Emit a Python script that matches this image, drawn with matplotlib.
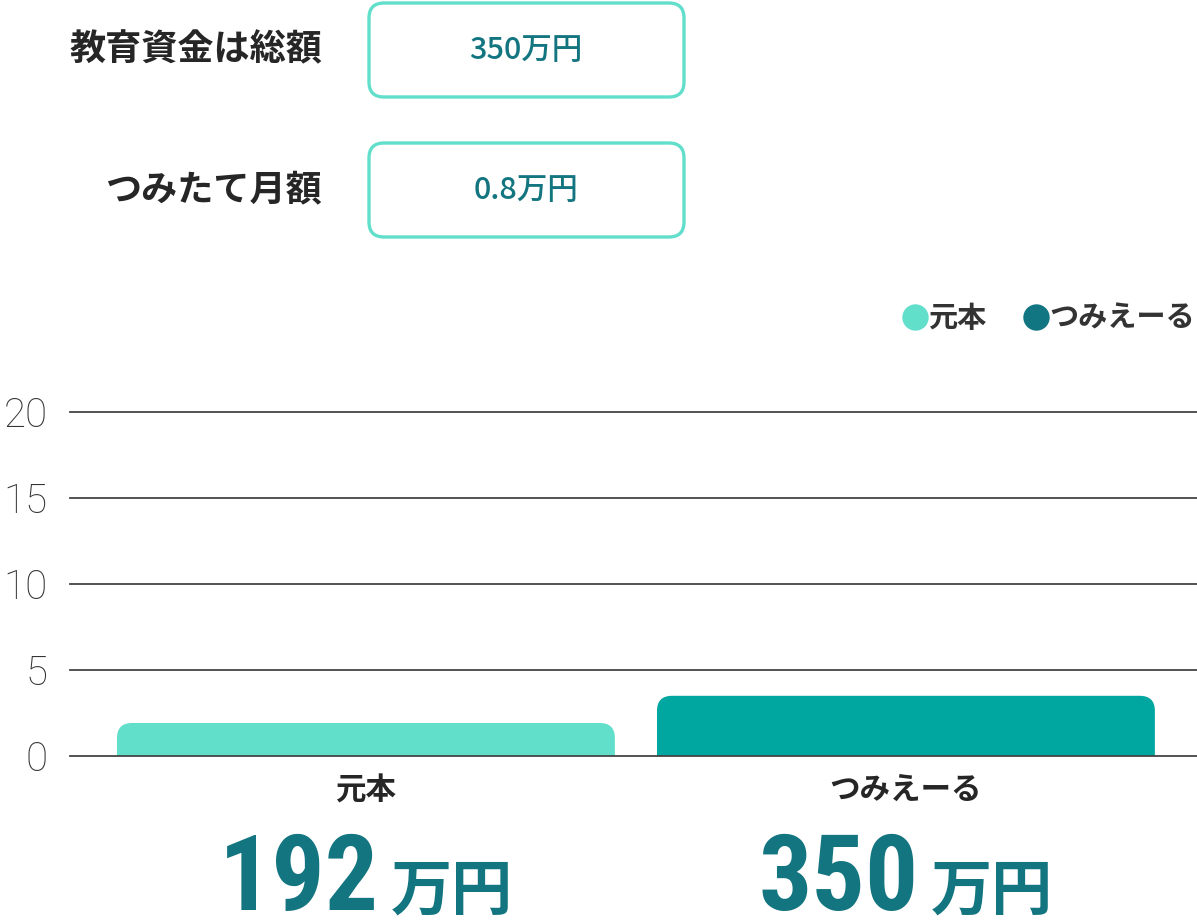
import numpy as np
import matplotlib.pyplot as plt
from matplotlib import font_manager
from matplotlib.patches import FancyBboxPatch
from matplotlib.lines import Line2D
from matplotlib.transforms import offset_copy, blended_transform_factory

plt.rcParams['font.family'] = ['Noto Sans CJK JP', 'DejaVu Sans']

# data
categories = ['元本', 'つみえーる']
amounts = [192, 350]            # 万円
input_labels = ['教育資金は総額', 'つみたて月額']
input_values = ['350万円', '0.8万円']
yticks = [0, 5, 10, 15, 20]

bar_colors = ['#62dfcb', '#00a6a0']
legend_colors = ['#62dfcb', '#127682']
num_color = '#137580'
text_dark = '#262626'

# pick a narrow font for the big numbers if one is installed
names = {f.name for f in font_manager.fontManager.ttflist}
narrow = None
for cand in ['Roboto Condensed', 'Liberation Sans Narrow', 'Open Sans Condensed',
             'Noto Sans Display', 'Arial Narrow']:
    if cand in names:
        narrow = cand
        break
if narrow:
    num_family, num_size = [narrow, 'Noto Sans CJK JP'], 76
else:
    num_family, num_size = ['Liberation Sans', 'Noto Sans CJK JP'], 68

W, H = 1197, 921
fig = plt.figure(figsize=(W / 100, H / 100), dpi=100)
ax = fig.add_axes([70 / W, 1 - 756 / H, 1 - 70 / W, 344 / H])

# bars with rounded top corners
values = np.array(amounts) / 100
x = np.arange(len(categories))
bar_w = 0.922
ax.set_xlim(-0.548, 1.539)
ax.set_ylim(0, 20)
r = 0.028
aspect = (15 * 20 / 344) / r
for xi, v, c in zip(x, values, bar_colors):
    p = FancyBboxPatch((xi - bar_w / 2, -2), bar_w, v + 2,
                       boxstyle=f'round,pad=0,rounding_size={r}',
                       mutation_aspect=aspect, fc=c, ec='none', zorder=2)
    ax.add_patch(p)

for t in yticks:
    ax.axhline(t, color='#444444', lw=1.3, zorder=3 if t == 0 else 1, clip_on=False)

for s in ax.spines.values():
    s.set_visible(False)
ax.set_yticks(yticks)
ax.set_yticklabels([str(t) for t in yticks], family=['Roboto', 'DejaVu Sans'],
                   fontweight='light', fontsize=29, color='#333333')
ax.set_xticks(x)
ax.set_xticklabels(categories, fontsize=22, fontweight='bold', color=text_dark)
ax.tick_params(axis='y', length=0, pad=16)
ax.tick_params(axis='x', length=0, pad=13)

# big amount labels under each category
fig.canvas.draw()
renderer = fig.canvas.get_renderer()
tr = blended_transform_factory(ax.transData, fig.transFigure)
gap = 12
for xi, a in zip(x, amounts):
    t1 = ax.text(xi, 1 - 910 / H, str(a), transform=tr, ha='center', va='baseline',
                 family=num_family, fontsize=num_size, fontweight='bold', color=num_color)
    t2 = ax.text(xi, 1 - 910 / H, '万円', transform=tr, ha='center', va='baseline',
                 fontsize=44, fontweight='bold', color=num_color)
    w1 = t1.get_window_extent(renderer).width
    w2 = t2.get_window_extent(renderer).width
    total = w1 + gap + w2
    t1.set_transform(offset_copy(tr, fig=fig, x=(-total / 2 + w1 / 2) * 72 / 100, units='points'))
    t2.set_transform(offset_copy(tr, fig=fig, x=(total / 2 - w2 / 2) * 72 / 100, units='points'))

# legend
handles = [Line2D([], [], ls='none', marker='o', ms=19, mfc=c, mec='none') for c in legend_colors]
fig.legend(handles, categories, loc='center right', bbox_to_anchor=(1221 / W, 1 - 318 / H),
           ncol=2, frameon=False, handlelength=0.8, handletextpad=0.05, columnspacing=1.3,
           prop={'size': 21, 'weight': 'bold'}, labelcolor='#333333')

# input boxes at the top
box_y = [50, 190]
for lab, val, yc in zip(input_labels, input_values, box_y):
    fig.text(322 / W, 1 - yc / H, lab, ha='right', va='center', fontsize=26,
             fontweight='bold', color=text_dark)
    rb = 15
    box = FancyBboxPatch((369 / W, 1 - (yc + 47) / H), 315 / W, 94 / H,
                         boxstyle=f'round,pad=0,rounding_size={rb / W}',
                         mutation_aspect=W / H, transform=fig.transFigure,
                         fc='white', ec='#62dfcb', lw=2.4)
    fig.add_artist(box)
    fig.text(526 / W, 1 - yc / H, val, ha='center', va='center', fontsize=22,
             fontweight='medium', color=num_color)

fig.savefig('out.png', dpi=100)
